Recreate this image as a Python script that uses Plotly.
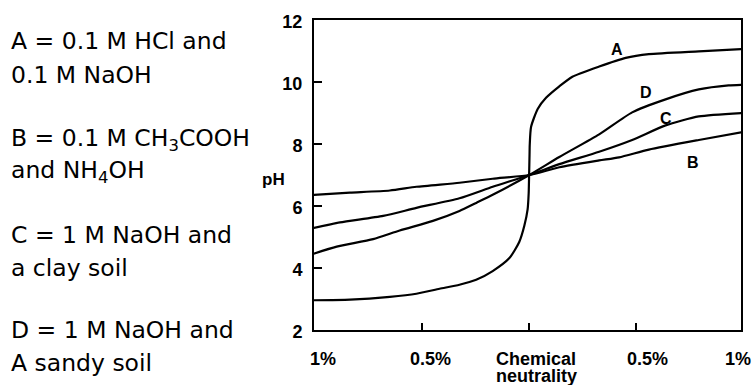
import plotly.graph_objects as go

# distance from chemical neutrality (fraction of 1%): negative = acid side, positive = base side
a_x = [-1.008, -0.837, -0.651, -0.527, -0.419, -0.326, -0.248, -0.171, -0.093, -0.047, -0.023,
       -0.008, -0.003, -0.001, 0.001, 0.002, 0.008, 0.039, 0.078, 0.140, 0.201, 0.326, 0.450,
       0.558, 0.791, 0.991]
a_ph = [2.96, 2.98, 3.07, 3.17, 3.33, 3.46, 3.62, 3.90, 4.32, 4.84, 5.37,
        5.89, 6.41, 7.00, 7.66, 7.98, 8.55, 9.13, 9.49, 9.86, 10.17, 10.50, 10.78,
        10.90, 10.99, 11.06]

b_x = [-1.008, -0.837, -0.651, -0.527, -0.326, -0.171, 0.0, 0.140, 0.326, 0.419, 0.558, 0.791, 0.991]
b_ph = [6.36, 6.43, 6.50, 6.62, 6.75, 6.88, 7.00, 7.25, 7.47, 7.57, 7.82, 8.13, 8.38]

c_x = [-1.008, -0.884, -0.682, -0.527, -0.326, -0.171, 0.0, 0.140, 0.326, 0.480, 0.636, 0.791, 0.991]
c_ph = [5.29, 5.47, 5.68, 5.94, 6.25, 6.62, 7.00, 7.35, 7.75, 8.13, 8.60, 8.89, 9.00]

d_x = [-1.008, -0.899, -0.729, -0.605, -0.450, -0.326, -0.248, -0.171, 0.0, 0.140, 0.326, 0.480,
       0.636, 0.791, 0.930, 0.991]
d_ph = [4.46, 4.69, 4.93, 5.21, 5.52, 5.84, 6.10, 6.36, 7.00, 7.58, 8.31, 9.02,
        9.44, 9.76, 9.89, 9.91]

series = [("A", a_x, a_ph), ("B", b_x, b_ph), ("C", c_x, c_ph), ("D", d_x, d_ph)]

# curve labels
curve_labels = ["A", "D", "C", "B"]
curve_label_x = [0.41, 0.543, 0.636, 0.762]
curve_label_ph = [10.96, 9.55, 8.73, 7.32]

y_ticks = [2, 4, 6, 8, 10, 12]
x_tick_vals = [-1.0, -0.5, 0.0, 0.5, 0.988]
x_tick_text = ["1%", "0.5%", "Chemical", "0.5%", "1%"]
x_tick_shift = [8, 8, -35, 11, -3]
x_tick_anchor = ["center", "center", "left", "center", "center"]

legend_lines = ["A = 0.1 M HCl and", "0.1 M NaOH",
                "B = 0.1 M CH<sub>3</sub>COOH", "and NH<sub>4</sub>OH",
                "C = 1 M NaOH and", "a clay soil",
                "D = 1 M NaOH and", "A sandy soil"]
legend_centers = [38.8, 72.5, 137.5, 169.2, 232.8, 265.5, 327.8, 361.2]

AX_FONT = dict(family="Liberation Sans, Arial, sans-serif", size=18, color="black", weight="bold")

fig = go.Figure()
for name, xs, ys in series:
    fig.add_trace(go.Scatter(x=xs, y=ys, mode="lines", name=name,
                             line=dict(color="black", width=2.2, shape="spline", smoothing=0.6),
                             showlegend=False, hoverinfo="skip"))

annotations = []
for t, x, y in zip(curve_labels, curve_label_x, curve_label_ph):
    annotations.append(dict(x=x, y=y, xref="x", yref="y", text=t, showarrow=False, yshift=3,
                            font=dict(family="Liberation Sans, Arial, sans-serif", size=16,
                                      color="black", weight="bold")))

PLOT_TOP = 13
PLOT_BOTTOM = 330
for v, t, s, anc in zip(x_tick_vals, x_tick_text, x_tick_shift, x_tick_anchor):
    annotations.append(dict(x=v, y=0, xref="x", yref="paper", text=t, showarrow=False,
                            xanchor=anc, yanchor="middle", xshift=s, yshift=-(359 - PLOT_BOTTOM),
                            font=AX_FONT))
annotations.append(dict(x=0.0, y=0, xref="x", yref="paper", text="neutrality", showarrow=False,
                        xanchor="left", yanchor="middle", xshift=-35, yshift=-(375.5 - PLOT_BOTTOM),
                        font=AX_FONT))

annotations.append(dict(x=0, y=1, xref="paper", yref="paper", text="pH", showarrow=False,
                        xanchor="center", yanchor="middle", xshift=273.5 - 314,
                        yshift=-(172 - PLOT_TOP),
                        font=dict(family="Liberation Sans, Arial, sans-serif", size=17,
                                  color="black", weight="bold")))

for t, c in zip(legend_lines, legend_centers):
    annotations.append(dict(x=0, y=1, xref="paper", yref="paper", text=t, showarrow=False,
                            xanchor="left", yanchor="middle", xshift=9 - 314,
                            yshift=-(c - 5 - PLOT_TOP),
                            font=dict(family="DejaVu Sans, Verdana, sans-serif", size=23.5,
                                      color="black")))

fig.update_layout(
    width=755, height=385,
    margin=dict(l=314, r=13, t=PLOT_TOP, b=385 - PLOT_BOTTOM, pad=0),
    paper_bgcolor="white", plot_bgcolor="white",
    annotations=annotations,
    xaxis=dict(range=[-1.005, 0.988], tickvals=[-0.5, 0.0, 0.5], showticklabels=False,
               ticks="inside", ticklen=7, tickwidth=2, tickcolor="black",
               showline=True, linecolor="black", linewidth=2, mirror=True,
               showgrid=False, zeroline=False, fixedrange=True),
    yaxis=dict(range=[2, 12], tickvals=y_ticks, ticktext=[str(v) for v in y_ticks],
               ticks="inside", ticklen=8, tickwidth=2, tickcolor="black",
               tickfont=AX_FONT, ticklabelstandoff=6, ticklabelshift=2,
               showline=True, linecolor="black", linewidth=2, mirror=True,
               showgrid=False, zeroline=False, fixedrange=True),
)

fig.write_html("out.html")
